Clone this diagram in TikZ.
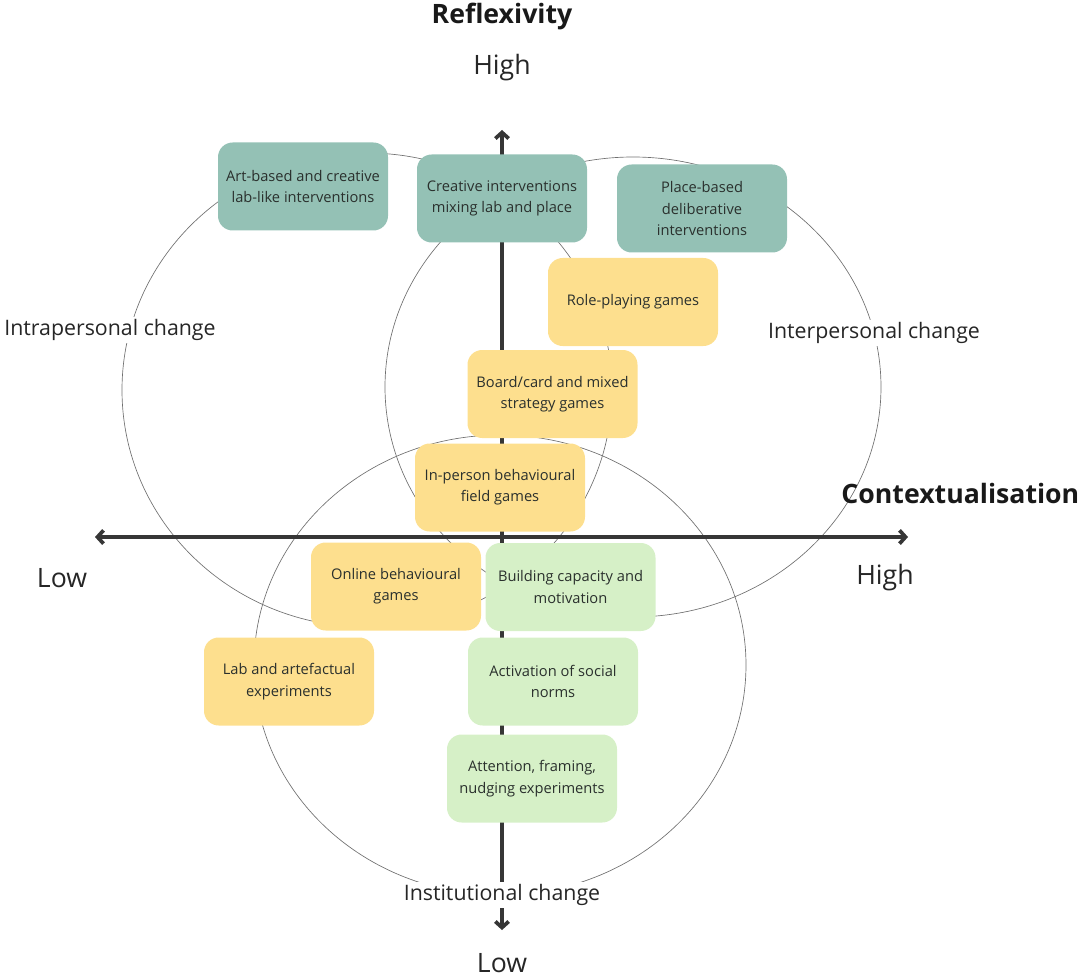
\documentclass[tikz,border=0pt]{standalone}
\usepackage{fontspec}
\setmainfont{Open Sans}
\usetikzlibrary{arrows.meta}

\definecolor{tealbox}{HTML}{94C1B5}
\definecolor{yellowbox}{HTML}{FDDF8E}
\definecolor{greenbox}{HTML}{D6F0C7}
\definecolor{boxtext}{HTML}{2A302D}
\definecolor{axisgray}{HTML}{363636}
\definecolor{ringgray}{HTML}{707070}

\begin{document}
\begin{tikzpicture}[x=0.75pt,y=-0.75pt]
  \tikzset{
    interv/.style={rounded corners=11pt, minimum width=127.5pt, minimum height=66pt,
      align=center, text=boxtext, font=\fontsize{11}{16}\selectfont, inner sep=2pt},
    lab/.style={interv, fill=tealbox},
    game/.style={interv, fill=yellowbox},
    nudge/.style={interv, fill=greenbox},
    ring/.style={draw=ringgray, line width=0.5pt},
    axis/.style={draw=axisgray, line width=2.8pt,
      {Straight Barb[length=4.5pt,width=10pt]}-{Straight Barb[length=4.5pt,width=10pt]}},
    change/.style={fill=white, inner sep=2pt, text=black!85, font=\fontsize{16}{19}\selectfont},
    level/.style={text=black!85, font=\fontsize{20}{23}\selectfont},
    dimension/.style={text=black!90, font=\bfseries\fontsize{20}{23}\selectfont}
  }
  \useasboundingbox (0,0) rectangle (1086,977);
  % the three spheres of change
  \draw[ring] (367,390) ellipse [x radius=245, y radius=237];
  \draw[ring] (633,387) ellipse [x radius=248, y radius=230];
  \draw[ring] (500,665) ellipse [x radius=246, y radius=230];
  % axes
  \coordinate (ytop) at (502,130);
  \coordinate (ybot) at (502,930);
  \coordinate (xleft) at (95,537);
  \coordinate (xright) at (908,537);
  \draw[axis] (ybot) -- (ytop);
  \draw[axis] (xleft) -- (xright);
  % interventions
  \node[lab] (artlab) at (303,186.5) {Art-based and creative\\lab-like interventions};
  \node[lab] (mixlab) at (502,198.5) {Creative interventions\\mixing lab and place};
  \node[lab] (placedelib) at (702,208.5) {Place-based\\deliberative\\interventions};
  \node[game] (roleplay) at (633,302) {Role-playing games};
  \node[game] (boardgame) at (552.5,394) {Board/card and mixed\\strategy games};
  \node[game] (fieldgame) at (500,487.5) {In-person behavioural\\field games};
  \node[game] (onlinegame) at (396,586.5) {Online behavioural\\games};
  \node[nudge] (capacity) at (570.5,587) {Building capacity and\\motivation};
  \node[game] (labexp) at (289,681.5) {Lab and artefactual\\experiments};
  \node[nudge] (socnorms) at (553,681.5) {Activation of social\\norms};
  \node[nudge] (framing) at (532,778.5) {Attention, framing,\\nudging experiments};
  % labels
  \node[change] (intra) at (110,330) {Intrapersonal change};
  \node[change] (inter) at (874,333) {Interpersonal change};
  \node[change] (instit) at (502,895) {Institutional change};
  \node[dimension] (reflex) at (502,17) {Reflexivity};
  \node[level] (reflexhigh) at (502,68) {High};
  \node[level] (reflexlow) at (502,963) {Low};
  \node[dimension, anchor=east] (context) at (1084,493) {Contextualisation};
  \node[level] (contextlow) at (62,578) {Low};
  \node[level] (contexthigh) at (885,578) {High};
\end{tikzpicture}
\end{document}
